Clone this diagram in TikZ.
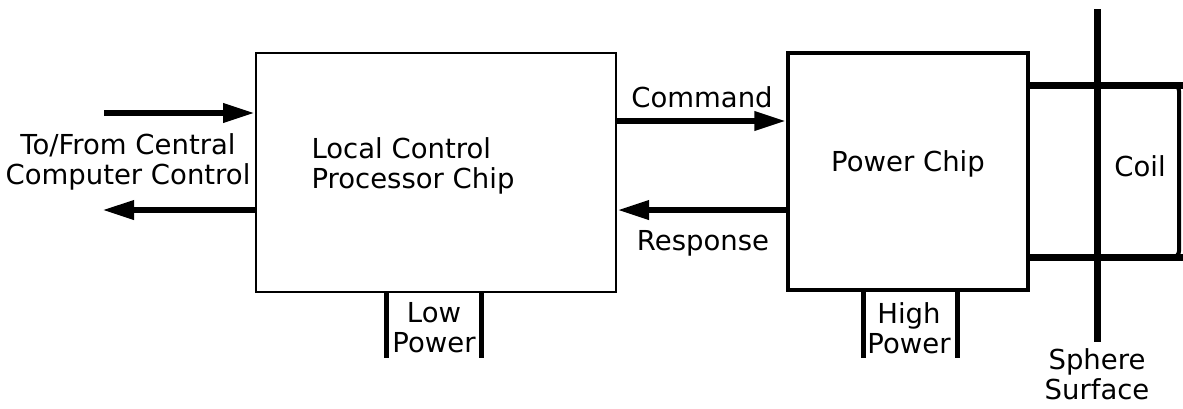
\documentclass[tikz,border=0pt]{standalone}
\usepackage{fontspec}
\setmainfont{DejaVu Sans}
\usetikzlibrary{arrows.meta,positioning}
\tikzset{
  chip/.style={draw, rectangle, inner sep=0pt},
  bus/.style={line width=6.5pt, -{Triangle[length=32pt,width=18pt]}},
  leg/.style={line width=5pt},
  lbl/.style={font=\fontsize{27.5}{30}\selectfont, align=center, inner sep=0pt}
}
\begin{document}
\begin{tikzpicture}[x=1pt, y=-1pt, >=stealth]
    \useasboundingbox (0,0) rectangle (1183,408);

    % Chips
    \node[chip, line width=2pt, minimum width=360pt, minimum height=239pt] (lcp) at (436,172.5) {};
    \node[chip, line width=3.5pt, minimum width=240pt, minimum height=237pt] (pwr) at (908,171.5) {};
    \node[lbl, align=left] (lcptext) at (413,166) {Local Control\\Processor Chip};
    \node[lbl] (pwrtext) at (908,164) {Power Chip};

    % Central computer link
    \coordinate (inA) at (104,113);
    \coordinate (outA) at (102,210);
    \draw[bus] (inA) -- (lcp.west |- inA);
    \draw[bus] (lcp.west |- outA) -- (outA);
    \node[lbl] (central) at (128,162) {To/From Central\\Computer Control};

    % Command / response
    \coordinate (cmd) at (0,121);
    \coordinate (rsp) at (0,210);
    \draw[bus] (lcp.east |- cmd) -- (pwr.west |- cmd);
    \draw[bus] (pwr.west |- rsp) -- (lcp.east |- rsp);
    \node[lbl] (cmdtext) at (702,97) {Command};
    \node[lbl] (rsptext) at (703,243) {Response};

    % Power legs
    \coordinate (L1) at (386,358);
    \coordinate (L2) at (481,358);
    \coordinate (H1) at (863,358);
    \coordinate (H2) at (957,358);
    \draw[leg] (lcp.south -| L1) -- (L1);
    \draw[leg] (lcp.south -| L2) -- (L2);
    \draw[leg] (pwr.south -| H1) -- (H1);
    \draw[leg] (pwr.south -| H2) -- (H2);
    \node[lbl] (lowtext) at (434,328) {Low\\Power};
    \node[lbl] (hightext) at (909,328) {High\\Power};

    % Coil and sphere surface
    \coordinate (ctop) at (1183,85);
    \coordinate (cbot) at (1183,257);
    \draw[line width=4pt, rounded corners=6pt] (1150,85) -- (1179,85) -- (1179,257) -- (1150,257);
    \draw[line width=7pt] (pwr.east |- ctop) -- (ctop);
    \draw[line width=7pt] (pwr.east |- cbot) -- (cbot);
    \coordinate (stop) at (1097,9);
    \coordinate (sbot) at (1097,342);
    \draw[line width=7pt] (stop) -- (sbot);
    \node[lbl] (coiltext) at (1140,166) {Coil};
    \node[lbl] (spheretext) at (1097,374) {Sphere\\Surface};
\end{tikzpicture}
\end{document}
